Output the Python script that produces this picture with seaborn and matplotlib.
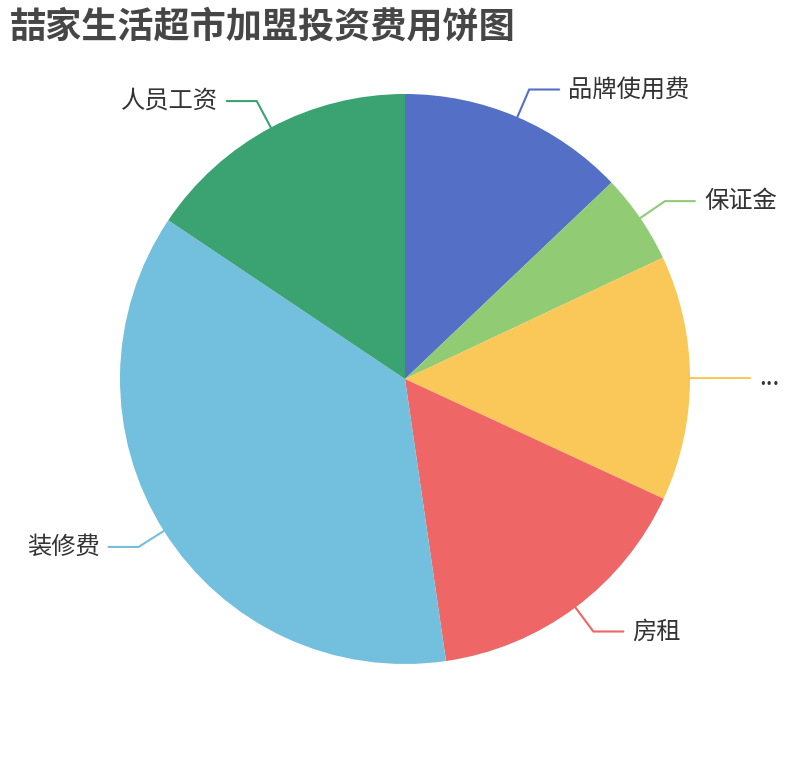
import numpy as np
import matplotlib
matplotlib.use("Agg")
import matplotlib.pyplot as plt
import seaborn as sns

# ---- data ----
categories = ["品牌使用费", "保证金", "...", "房租", "装修费", "人员工资"]
values = [12.9, 5.1, 13.9, 15.8, 36.7, 15.6]
colors = ["#5470c6", "#91cc75", "#fac858", "#ee6666", "#73c0de", "#3ba272"]
title = "喆家生活超市加盟投资费用饼图"

sns.set_theme(style="white")
plt.rcParams['font.family'] = ['Noto Sans CJK SC', 'DejaVu Sans']

W, H = 810, 760
fig = plt.figure(figsize=(W / 100, H / 100), dpi=100)
ax = fig.add_axes([0, 0, 1, 1])
ax.set_xlim(0, W)
ax.set_ylim(0, H)
ax.set_aspect('equal')
ax.axis('off')

cx, cy, R = 405, H - 379, 285
wedges, _ = ax.pie(values, colors=colors, startangle=90, counterclock=False,
                   center=(cx, cy), radius=R, frame=True,
                   wedgeprops=dict(linewidth=0))
ax.set_xlim(0, W)
ax.set_ylim(0, H)
ax.axis('off')

total = sum(values)
cum = 0
for cat, v, col in zip(categories, values, colors):
    mid = (cum + v / 2) / total * 2 * np.pi  # clockwise from top
    cum += v
    sx, sy = np.sin(mid), np.cos(mid)
    p0 = (cx + R * sx, cy + R * sy)
    p1 = (cx + (R + 30) * sx, cy + (R + 30) * sy)
    d = 1 if sx >= 0 else -1
    p2 = (p1[0] + d * 30, p1[1])
    ax.plot([p0[0], p1[0], p2[0]], [p0[1], p1[1], p2[1]], color=col, lw=1.5,
            solid_joinstyle='miter')
    ax.text(p2[0] + d * 9, p2[1], cat, ha='left' if d > 0 else 'right',
            va='center', fontsize=17.5, color='#333333')

fig.text(10 / W, 1 - 27 / H, title, fontsize=26, fontweight='bold',
         color='#464646', ha='left', va='center')

fig.savefig("out.png", dpi=100, facecolor='white')
